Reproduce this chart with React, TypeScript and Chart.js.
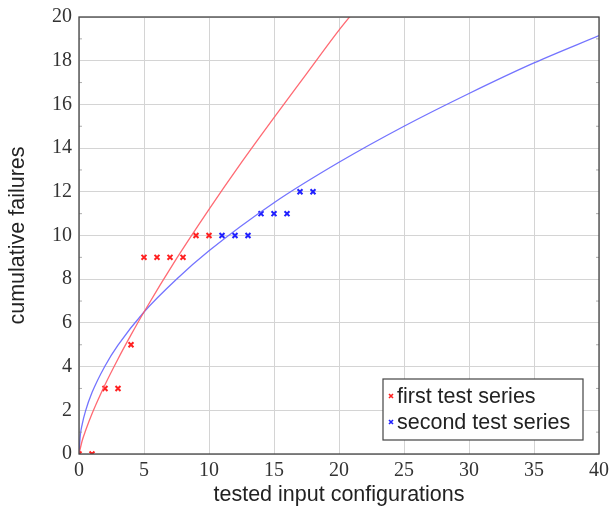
import React, { useEffect, useRef } from "react";
import { Chart, registerables } from "chart.js";

Chart.register(...registerables);

// Observed data
const firstX = [0, 1, 2, 3, 4, 5, 6, 7, 8, 9, 10];
const firstY = [0, 0, 3, 3, 5, 9, 9, 9, 9, 10, 10];
const secondX = [11, 12, 13, 14, 15, 16, 17, 18];
const secondY = [10, 10, 10, 11, 11, 11, 12, 12];

// Fitted curves
const redFitX = [0, 0.25, 0.5, 1, 2, 3, 4, 5, 7.5, 10, 12.5, 15, 17.5, 20, 21.5];
const redFitY = [0, 0.62, 1.06, 1.84, 3.17, 4.35, 5.45, 6.5, 8.94, 11.2, 13.35, 15.4, 17.4, 19.4, 20.5];
const blueFitX = [0, 0.1, 0.25, 0.5, 1, 2, 3, 5, 7.5, 10, 15, 20, 25, 30, 35, 40];
const blueFitY = [0, 0.85, 1.37, 1.96, 2.81, 4.03, 4.98, 6.5, 8.0, 9.3, 11.5, 13.35, 15.0, 16.5, 17.9, 19.15];

const legendLabels = ["first test series", "second test series"];
const xTitle = "tested input configurations";
const yTitle = "cumulative failures";

const RED = "#ff2020";
const BLUE = "#2020ff";

function pts(xs: number[], ys: number[]) {
  return xs.map((x, i) => ({ x, y: ys[i] }));
}

const decorPlugin = {
  id: "decor",
  afterDraw(chart: any) {
    const { ctx, chartArea: a, scales } = chart;
    const ys = scales.y;
    ctx.save();
    // minor ticks on y (odd values)
    ctx.strokeStyle = "#999";
    ctx.lineWidth = 0.8;
    for (let v = 1; v < 20; v += 2) {
      const py = ys.getPixelForValue(v);
      ctx.beginPath();
      ctx.moveTo(a.left, py);
      ctx.lineTo(a.left + 3, py);
      ctx.moveTo(a.right, py);
      ctx.lineTo(a.right - 3, py);
      ctx.stroke();
    }
    // frame
    ctx.strokeStyle = "#444";
    ctx.lineWidth = 1.3;
    ctx.strokeRect(a.left, a.top, a.right - a.left, a.bottom - a.top);

    // legend box
    const bx = 383, by = 379, bw = 200, bh = 61;
    ctx.fillStyle = "#fff";
    ctx.fillRect(bx, by, bw, bh);
    ctx.strokeStyle = "#444";
    ctx.lineWidth = 1.2;
    ctx.strokeRect(bx, by, bw, bh);
    const colors = [RED, BLUE];
    ctx.font = "21.5px 'Liberation Sans', Arial, sans-serif";
    ctx.textBaseline = "middle";
    ctx.textAlign = "left";
    legendLabels.forEach((lab, i) => {
      const cy = by + 17 + i * 26;
      ctx.strokeStyle = colors[i];
      ctx.lineWidth = 1.6;
      const mx = bx + 8, r = 2;
      ctx.beginPath();
      ctx.moveTo(mx - r, cy - r);
      ctx.lineTo(mx + r, cy + r);
      ctx.moveTo(mx + r, cy - r);
      ctx.lineTo(mx - r, cy + r);
      ctx.stroke();
      ctx.fillStyle = "#222";
      ctx.fillText(lab, bx + 14, cy + 1);
    });

    // axis titles
    ctx.fillStyle = "#222";
    ctx.font = "21.5px 'Liberation Sans', Arial, sans-serif";
    ctx.textAlign = "center";
    ctx.textBaseline = "middle";
    ctx.fillText(xTitle, (a.left + a.right) / 2, 495);
    ctx.translate(18, (a.top + a.bottom) / 2);
    ctx.rotate(-Math.PI / 2);
    ctx.fillText(yTitle, 0, 0);
    ctx.restore();
  },
};

export default function App() {
  const ref = useRef<HTMLCanvasElement | null>(null);
  useEffect(() => {
    document.body.style.margin = "0";
    const canvas = ref.current!;
    const tickFont = { family: "'Liberation Serif', 'DejaVu Serif', serif", size: 20 };
    const chart = new Chart(canvas, {
      type: "scatter",
      data: {
        datasets: [
          {
            type: "line",
            data: pts(redFitX, redFitY),
            borderColor: "rgba(255,90,100,0.9)",
            borderWidth: 1.3,
            pointRadius: 0,
            cubicInterpolationMode: "monotone",
            fill: false,
          } as any,
          {
            type: "line",
            data: pts(blueFitX, blueFitY),
            borderColor: "rgba(100,100,255,0.9)",
            borderWidth: 1.3,
            pointRadius: 0,
            cubicInterpolationMode: "monotone",
            fill: false,
          } as any,
          {
            data: pts(firstX, firstY),
            pointStyle: "crossRot",
            pointRadius: 3.5,
            borderColor: RED,
            backgroundColor: RED,
            borderWidth: 2,
          },
          {
            data: pts(secondX, secondY),
            pointStyle: "crossRot",
            pointRadius: 3.5,
            borderColor: BLUE,
            backgroundColor: BLUE,
            borderWidth: 2,
          },
        ],
      },
      options: {
        animation: false,
        responsive: false,
        devicePixelRatio: 1,
        layout: { padding: { left: 0, right: 12, top: 17, bottom: 0 } },
        plugins: { legend: { display: false }, tooltip: { enabled: false } },
        scales: {
          x: {
            type: "linear",
            min: 0,
            max: 40,
            ticks: {
              stepSize: 5,
              color: "#333",
              font: tickFont,
              padding: 5,
              maxRotation: 0,
            },
            grid: { color: "#d4d4d4", lineWidth: 1, drawTicks: false },
            border: { display: false },
            afterFit(s: any) {
              s.height = 58;
              s.paddingLeft = 0;
              s.paddingRight = 0;
            },
          },
          y: {
            type: "linear",
            min: 0,
            max: 20,
            ticks: {
              stepSize: 2,
              color: "#333",
              font: tickFont,
              padding: 7,
            },
            grid: { color: "#d4d4d4", lineWidth: 1, drawTicks: false },
            border: { display: false },
            afterFit(s: any) {
              s.width = 79;
              s.paddingTop = 0;
              s.paddingBottom = 0;
            },
          },
        },
      } as any,
      plugins: [decorPlugin],
    });
    return () => chart.destroy();
  }, []);
  return (
    <div style={{ width: 611, height: 512 }}>
      <canvas ref={ref} width={611} height={512} style={{ display: "block" }} />
    </div>
  );
}
